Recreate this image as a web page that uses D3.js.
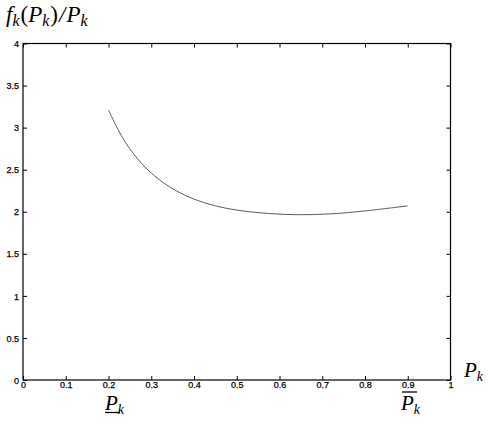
<!DOCTYPE html>
<html>
<head>
<meta charset="utf-8">
<script src="https://cdn.jsdelivr.net/npm/d3@7"></script>
<style>
body { margin: 0; background: #fff; }
.tick text { font-family: "Liberation Sans", Arial, sans-serif; font-size: 9px; fill: #000; stroke: #000; stroke-width: 0.25px; }
.math { font-family: "Liberation Serif", "Times New Roman", serif; font-style: italic; fill: #000; }
</style>
</head>
<body>
<svg id="chart" width="498" height="426"></svg>
<script>
// curve values
var pk = [0.2, 0.22, 0.24, 0.26, 0.28, 0.3, 0.33, 0.36, 0.4, 0.45, 0.5, 0.56, 0.64, 0.72, 0.8, 0.9];
var ratio = [3.21, 3.00, 2.82, 2.68, 2.56, 2.46, 2.34, 2.245, 2.15, 2.07, 2.02, 1.985, 1.965, 1.975, 2.01, 2.07];
var xTicks = [0, 0.1, 0.2, 0.3, 0.4, 0.5, 0.6, 0.7, 0.8, 0.9, 1];
var yTicks = [0, 0.5, 1, 1.5, 2, 2.5, 3, 3.5, 4];

var svg = d3.select('#chart');
var boxL = 23, boxR = 450.5, boxT = 43.5, boxB = 380;

var x = d3.scaleLinear().domain([0, 1]).range([boxL, boxR]);
var y = d3.scaleLinear().domain([0, 4]).range([boxB, boxT]);

// box
svg.append('rect')
    .attr('x', boxL).attr('y', boxT)
    .attr('width', boxR - boxL).attr('height', boxB - boxT)
    .attr('fill', 'none').attr('stroke', '#000').attr('stroke-width', 1.2);

var fmt = d => d3.format('')(d);

var xAxis = svg.append('g').attr('transform', `translate(0,${boxB})`)
    .call(d3.axisBottom(x).tickValues(xTicks).tickFormat(fmt).tickSizeInner(-4).tickSizeOuter(0).tickPadding(3));
var yAxis = svg.append('g').attr('transform', `translate(${boxL},0)`)
    .call(d3.axisLeft(y).tickValues(yTicks).tickFormat(fmt).tickSizeInner(-4).tickSizeOuter(0).tickPadding(4));
var xTop = svg.append('g').attr('transform', `translate(0,${boxT})`)
    .call(d3.axisTop(x).tickValues(xTicks).tickFormat('').tickSizeInner(-4).tickSizeOuter(0));
var yRight = svg.append('g').attr('transform', `translate(${boxR},0)`)
    .call(d3.axisRight(y).tickValues(yTicks).tickFormat('').tickSizeInner(-4).tickSizeOuter(0));

[xAxis, yAxis, xTop, yRight].forEach(g => {
    g.select('.domain').remove();
    g.selectAll('line').attr('stroke', '#000');
});
xAxis.selectAll('text').attr('dy', '0.6em');
yAxis.selectAll('text').attr('dy', '0.35em');

// curve
var line = d3.line().x((d, i) => x(pk[i])).y(d => y(d)).curve(d3.curveCatmullRom.alpha(0.5));
svg.append('path').datum(ratio)
    .attr('d', line)
    .attr('fill', 'none').attr('stroke', '#333').attr('stroke-width', 0.8);

// labels
var title = svg.append('text').attr('class', 'math').attr('x', 6).attr('y', 22).attr('font-size', 23);
title.append('tspan').text('f');
title.append('tspan').attr('font-size', 16).attr('dy', 4).text('k');
title.append('tspan').attr('dy', -4).attr('dx', 1).attr('font-style', 'normal').text('(');
title.append('tspan').text('P');
title.append('tspan').attr('font-size', 16).attr('dy', 4).text('k');
title.append('tspan').attr('dy', -4).attr('dx', 1).attr('font-style', 'normal').text(')');
title.append('tspan').attr('dx', 1).text('/');
title.append('tspan').attr('dx', 1).text('P');
title.append('tspan').attr('font-size', 16).attr('dy', 4).text('k');

function pLabel(px, py) {
    var t = svg.append('text').attr('class', 'math').attr('x', px).attr('y', py).attr('font-size', 21);
    t.append('tspan').text('P');
    t.append('tspan').attr('font-size', 14).attr('dy', 4).text('k');
    return t;
}
pLabel(464, 377);
pLabel(105, 410);
pLabel(401, 410);
svg.append('line').attr('x1', 105).attr('x2', 120).attr('y1', 412.5).attr('y2', 412.5)
    .attr('stroke', '#000').attr('stroke-width', 1.3);
svg.append('line').attr('x1', 402).attr('x2', 417).attr('y1', 392).attr('y2', 392)
    .attr('stroke', '#000').attr('stroke-width', 1.3);
</script>
</body>
</html>
